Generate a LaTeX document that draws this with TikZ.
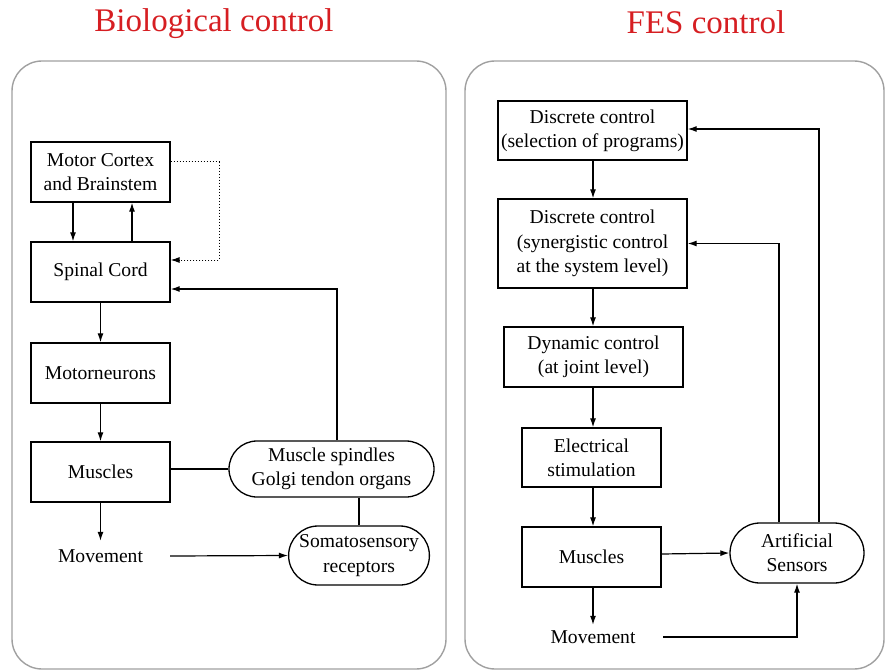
\documentclass[tikz,border=0pt]{standalone}
\usepackage{fontspec}
\setmainfont{Liberation Serif}
\usetikzlibrary{arrows.meta,shapes.misc}
\definecolor{titlered}{RGB}{214,30,34}
\definecolor{panelgray}{RGB}{160,160,160}
\begin{document}
\begin{tikzpicture}[x=1pt,y=-1pt,
  box/.style={draw,line width=1.3pt,inner sep=2pt,align=center,font=\fontsize{19.6}{24.3}\selectfont},
  pill/.style={rounded rectangle,draw,line width=1.3pt,inner sep=2pt,align=center,font=\fontsize{19.6}{24.3}\selectfont},
  plain/.style={inner sep=0pt,align=center,font=\fontsize{19.6}{24.3}\selectfont},
  arr/.style={line width=1.2pt,-{Latex[length=9pt,width=6pt]}},
  con/.style={line width=1.2pt},
  panel/.style={draw=panelgray,line width=1.4pt,rounded corners=30pt},
  title/.style={text=titlered,font=\fontsize{33}{38}\selectfont}]
\useasboundingbox (0,0) rectangle (885,671);
% panels
\draw[panel] (12,61) rectangle (446,669);
\draw[panel] (465,61) rectangle (884,669);
% titles
\node[title] (t1) at (214,24) {Biological control};
\node[title] (t2) at (706,22) {FES control};
% left side
\node[box,minimum width=139pt,minimum height=60pt] (mc) at (100.5,172) {Motor Cortex\\and Brainstem};
\node[box,minimum width=139pt,minimum height=60pt] (sc) at (100.5,272) {Spinal Cord};
\node[box,minimum width=139pt,minimum height=60pt] (mn) at (100.5,373) {Motorneurons};
\node[box,minimum width=139pt,minimum height=60pt] (mu) at (100.5,472) {Muscles};
\node[plain,minimum width=139pt,minimum height=30pt] (mv) at (100.5,556) {Movement};
\node[pill,minimum width=209pt,minimum height=56pt] (sp) at (331.5,469) {Muscle spindles\\Golgi tendon organs};
\node[pill,minimum width=138pt,minimum height=59pt] (so) at (359,555.5) {Somatosensory\\receptors};
\coordinate (d1) at (219,162);
\coordinate (d2) at (219,260);
\draw[arr] ([xshift=-27.5pt]mc.south) -- ([xshift=-27.5pt]sc.north);
\draw[arr] ([xshift=31.5pt]sc.north) -- ([xshift=31.5pt]mc.south);
\draw[line width=1pt,dotted,-{Latex[length=9pt,width=6pt]}] ([yshift=10pt]mc.east) -- (d1) -- (d2) -- ([yshift=12pt]sc.east);
\draw[arr] (sc) -- (mn);
\draw[arr] (mn) -- (mu);
\draw[arr] (mu) -- (mv);
\draw[arr] ([xshift=5.5pt]sp.north) |- ([yshift=-17pt]sc.east);
\draw[con] (sp.west) -- (sp.west -| mu.east);
\draw[con] (so.north) -- (so.north |- sp.south);
\draw[arr] (mv.east) -- (so.west);
% right side
\node[box,minimum width=189pt,minimum height=59pt] (q1) at (592.5,130.5) {Discrete control\\(selection of programs)};
\node[box,minimum width=189pt,minimum height=89pt] (q2) at (592.5,243.5) {Discrete control\\(synergistic control\\at the system level)};
\node[box,minimum width=179pt,minimum height=60pt] (dy) at (593.5,357) {Dynamic control\\(at joint level)};
\node[box,minimum width=139pt,minimum height=59pt] (el) at (591.5,457.5) {Electrical\\stimulation};
\node[box,minimum width=139pt,minimum height=60pt] (mr) at (591.5,557) {Muscles};
\node[plain,minimum width=140pt,minimum height=24pt] (mv2) at (593,637) {Movement};
\node[pill,minimum width=138pt,minimum height=60pt] (se) at (797,553) {Artificial\\Sensors};
\draw[arr] (q1.south -| mv2) -- (q2.north -| mv2);
\draw[arr] (q2.south -| mv2) -- (dy.north -| mv2);
\draw[arr] (dy.south -| mv2) -- (el.north -| mv2);
\draw[arr] (el.south -| mv2) -- (mr.north -| mv2);
\draw[arr] (mr.south -| mv2) -- (mv2.north);
\draw[arr] ([yshift=3pt]mr.east) -- (se.west);
\draw[arr] (mv2.east) -| (se.south);
\draw[arr] ([xshift=-18pt]se.north) |- (q2.east);
\draw[arr] ([xshift=22pt]se.north) |- ([yshift=1.5pt]q1.east);
\end{tikzpicture}
\end{document}
